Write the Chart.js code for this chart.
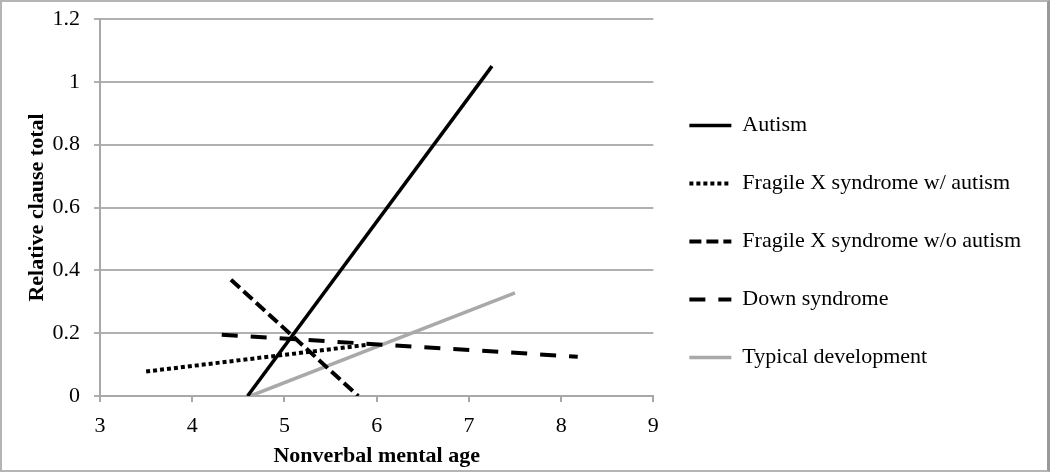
<!DOCTYPE html>
<html lang="en">
<head>
    <meta charset="UTF-8">
    <title>Relative clause total by nonverbal mental age</title>
    <style>
        html, body { margin: 0; padding: 0; background: #fff; }
        .frame {
            width: 1045px; height: 468px;
            border: 2px solid #b4b4b4;
            border-right: 3px solid #999;
        }
        canvas { display: block; }
    </style>
</head>
<body>
    <div class="frame">
        <canvas id="clauseChart" width="1045" height="468"></canvas>
    </div>
    <script src="https://cdn.jsdelivr.net/npm/chart.js"></script>
    <script>
const groups = ['Autism', 'Fragile X syndrome w/ autism', 'Fragile X syndrome w/o autism', 'Down syndrome', 'Typical development'];

// regression line end points
const autismX = [4.6, 7.25];
const autismY = [0, 1.05];
const fxsAutX = [3.5, 5.9];
const fxsAutY = [0.078, 0.163];
const fxsNoAutX = [4.42, 5.8];
const fxsNoAutY = [0.37, 0];
const downX = [4.32, 8.18];
const downY = [0.195, 0.125];
const typicalX = [4.63, 7.5];
const typicalY = [0, 0.328];

const yTicks = [0, 0.2, 0.4, 0.6, 0.8, 1, 1.2];

function pts(xs, ys) {
    return xs.map((x, i) => ({ x: x, y: ys[i] }));
}

const serif = 'Liberation Serif';

const ctx = document.getElementById('clauseChart').getContext('2d');
const clauseChart = new Chart(ctx, {
    type: 'line',
    data: {
        datasets: [
            {
                label: groups[0],
                data: pts(autismX, autismY),
                borderColor: '#000',
                borderWidth: 3.5
            },
            {
                label: groups[1],
                data: pts(fxsAutX, fxsAutY),
                borderColor: '#000',
                borderWidth: 4,
                borderDash: [4, 3]
            },
            {
                label: groups[2],
                data: pts(fxsNoAutX, fxsNoAutY),
                borderColor: '#000',
                borderWidth: 4,
                borderDash: [12, 5]
            },
            {
                label: groups[3],
                data: pts(downX, downY),
                borderColor: '#000',
                borderWidth: 4,
                borderDash: [16, 13]
            },
            {
                label: groups[4],
                data: pts(typicalX, typicalY),
                borderColor: '#a9a9a9',
                borderWidth: 3.5
            }
        ]
    },
    options: {
        responsive: false,
        animation: false,
        events: [],
        layout: {
            padding: { top: 4, right: 16, bottom: 0, left: 0 }
        },
        elements: {
            point: { radius: 0 },
            line: { borderCapStyle: 'butt', tension: 0 }
        },
        plugins: {
            tooltip: { enabled: false },
            legend: {
                position: 'right',
                maxWidth: 420,
                title: {
                    display: true,
                    text: ' ',
                    font: { size: 5 },
                    padding: { top: 0, bottom: 1 }
                },
                labels: {
                    color: '#000',
                    font: { family: serif, size: 22 },
                    usePointStyle: true,
                    pointStyle: 'line',
                    pointStyleWidth: 42,
                    padding: 36,
                    generateLabels: function (chart) {
                        const items = Chart.defaults.plugins.legend.labels.generateLabels(chart);
                        items.forEach(item => {
                            const ds = chart.data.datasets[item.datasetIndex];
                            item.lineDash = ds.borderDash || [];
                            item.lineWidth = ds.borderWidth;
                            item.strokeStyle = ds.borderColor;
                        });
                        return items;
                    }
                }
            }
        },
        scales: {
            x: {
                type: 'linear',
                min: 3,
                max: 9,
                afterFit: function (scale) { scale.height = 74; },
                ticks: {
                    stepSize: 1,
                    color: '#000',
                    padding: 11,
                    font: { family: serif, size: 22 }
                },
                grid: {
                    drawOnChartArea: false,
                    drawTicks: true,
                    tickLength: 6,
                    color: '#a8a8a8',
                    lineWidth: 2
                },
                border: { color: '#a8a8a8', width: 2 },
                title: {
                    display: true,
                    text: 'Nonverbal mental age',
                    color: '#000',
                    font: { family: serif, size: 22, weight: 'bold' },
                    padding: { top: 0, bottom: 0 }
                }
            },
            y: {
                type: 'linear',
                min: 0,
                max: 1.2,
                afterFit: function (scale) {
                    scale.width = 98;
                    scale.paddingTop = 17;
                },
                afterBuildTicks: function (scale) {
                    scale.ticks = yTicks.map(v => ({ value: v }));
                },
                ticks: {
                    color: '#000',
                    padding: 14,
                    font: { family: serif, size: 22 },
                    callback: v => String(v)
                },
                grid: {
                    drawTicks: true,
                    tickLength: 6,
                    color: '#b0b0b0',
                    lineWidth: 2
                },
                border: { color: '#a8a8a8', width: 2 },
                title: {
                    display: true,
                    text: 'Relative clause total',
                    color: '#000',
                    font: { family: serif, size: 22, weight: 'bold' },
                    padding: { top: 22, bottom: 0 }
                }
            }
        }
    }
});
    </script>
</body>
</html>
